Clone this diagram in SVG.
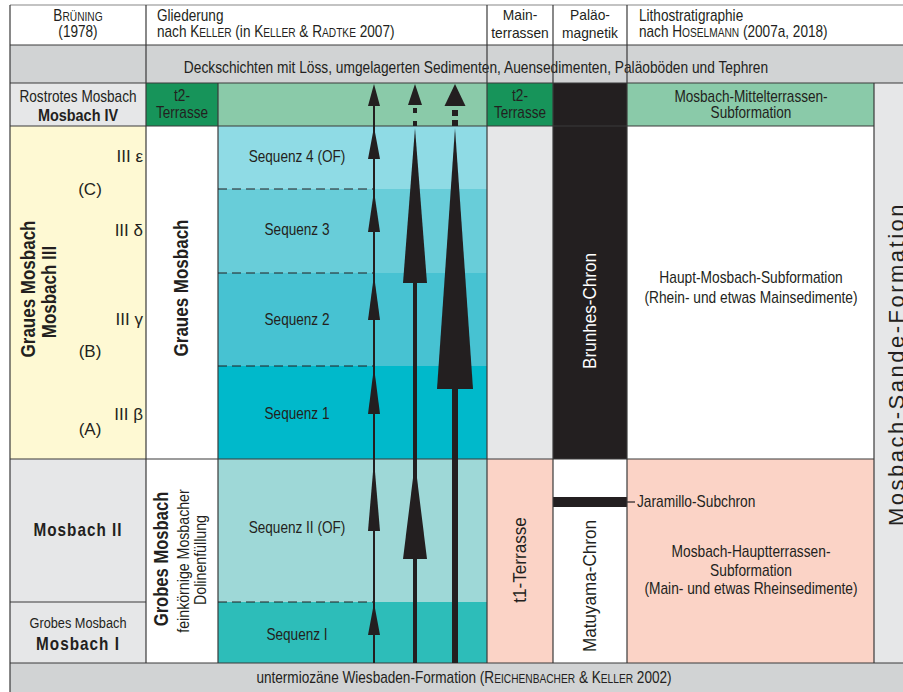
<svg xmlns="http://www.w3.org/2000/svg" width="903" height="692" viewBox="0 0 903 692">
<style>
text{font-family:"Liberation Sans",Arial,sans-serif;font-size:16px;fill:#231f20}
.c{text-anchor:middle}
.r{text-anchor:end}
.b{font-weight:bold}
.sc{font-size:12px}
.big{font-size:17px}
.rb{font-size:20px;font-weight:bold}
.rt{font-size:19px}
.w{fill:#ffffff}
.hd{font-size:15px}
.ln{stroke:#3a3a3a;stroke-width:1.2;fill:none}
.dash{stroke:#231f20;stroke-width:1.2;stroke-dasharray:9 5;fill:none}
.ar{fill:#231f20}
</style>
<rect x="0" y="0" width="903" height="692" fill="#ffffff"/>
<g id="header">
<rect x="10" y="5" width="893" height="40" fill="#ffffff"/>
<text class="c" transform="translate(78,21) scale(0.85,1)">B<tspan class="sc">RÜNING</tspan></text>
<text class="c" transform="translate(78,37) scale(0.85,1)">(1978)</text>
<text transform="translate(157,21) scale(0.85,1)">Gliederung</text>
<text transform="translate(157,37) scale(0.85,1)">nach K<tspan class="sc">ELLER</tspan> (in K<tspan class="sc">ELLER</tspan> &amp; R<tspan class="sc">ADTKE</tspan> 2007)</text>
<text class="c hd" transform="translate(520,20) scale(0.92,1)">Main-</text>
<text class="c hd" transform="translate(520,38) scale(0.92,1)">terrassen</text>
<text class="c hd" transform="translate(590,20) scale(0.92,1)">Paläo-</text>
<text class="c hd" transform="translate(590,38) scale(0.92,1)">magnetik</text>
<text transform="translate(639,21) scale(0.85,1)">Lithostratigraphie</text>
<text transform="translate(639,37) scale(0.85,1)">nach H<tspan class="sc">OSELMANN</tspan> (2007a, 2018)</text>
</g>
<g id="deckschichten">
<rect x="10" y="45" width="893" height="38" fill="#d1d3d4"/>
<text class="c" transform="translate(476,73) scale(0.86,1)">Deckschichten mit Löss, umgelagerten Sedimenten, Auensedimenten, Paläoböden und Tephren</text>
</g>
<g id="mosbach-iv">
<rect x="10" y="83" width="136" height="43" fill="#e6e7e8"/>
<text class="c" transform="translate(78,102) scale(0.85,1)">Rostrotes Mosbach</text>
<text class="c b big" transform="translate(78,121) scale(0.85,1)">Mosbach IV</text>
</g>
<g id="t2-left">
<rect x="146" y="83" width="72" height="43" fill="#17945a"/>
<text class="c" transform="translate(182,101) scale(0.85,1)">t2-</text>
<text class="c" transform="translate(182,118) scale(0.85,1)">Terrasse</text>
</g>
<g id="sequences">
<rect x="218" y="83" width="269" height="43" fill="#8acaa9"/>
<rect x="218" y="126" width="269" height="63" fill="#8fdbe5"/>
<rect x="218" y="189" width="269" height="84" fill="#68cdd9"/>
<rect x="218" y="273" width="269" height="93" fill="#47c2d2"/>
<rect x="218" y="366" width="269" height="93" fill="#00b9cb"/>
<rect x="218" y="459" width="269" height="143" fill="#9ed8d7"/>
<rect x="218" y="602" width="269" height="61" fill="#2dbdb9"/>
<text class="c" transform="translate(297,162) scale(0.85,1)">Sequenz 4 (OF)</text>
<text class="c" transform="translate(297,235) scale(0.85,1)">Sequenz 3</text>
<text class="c" transform="translate(297,325) scale(0.85,1)">Sequenz 2</text>
<text class="c" transform="translate(297,419) scale(0.85,1)">Sequenz 1</text>
<text class="c" transform="translate(297,533) scale(0.85,1)">Sequenz II (OF)</text>
<text class="c" transform="translate(297,640) scale(0.85,1)">Sequenz I</text>
</g>
<g id="t2-right">
<rect x="487" y="83" width="66" height="43" fill="#17945a"/>
<text class="c" transform="translate(520,101) scale(0.85,1)">t2-</text>
<text class="c" transform="translate(520,118) scale(0.85,1)">Terrasse</text>
</g>
<g id="brunhes">
<rect x="553" y="83" width="74" height="376" fill="#231f20"/>
<text class="c w rt" transform="translate(596,311) rotate(-90) scale(0.9,1)">Brunhes-Chron</text>
</g>
<g id="mittelterrassen">
<rect x="627" y="83" width="247" height="43" fill="#8acaa9"/>
<text class="c" transform="translate(751,102) scale(0.85,1)">Mosbach-Mittelterrassen-</text>
<text class="c" transform="translate(751,118) scale(0.85,1)">Subformation</text>
</g>
<g id="mosbach-iii">
<rect x="10" y="126" width="136" height="333" fill="#fef9d3"/>
<text class="c rb" transform="translate(35,289) rotate(-90) scale(0.85,1)">Graues Mosbach</text>
<text class="c rb" transform="translate(56,292) rotate(-90) scale(0.85,1)">Mosbach III</text>
<text class="r big" x="143" y="162">III ε</text>
<text class="c big" x="90" y="195">(C)</text>
<text class="r big" x="143" y="236">III δ</text>
<text class="r big" x="143" y="325">III γ</text>
<text class="c big" x="90" y="357">(B)</text>
<text class="r big" x="143" y="420">III β</text>
<text class="c big" x="90" y="435">(A)</text>
</g>
<g id="graues-mosbach">
<rect x="146" y="126" width="72" height="333" fill="#ffffff"/>
<text class="c rb" transform="translate(188,288) rotate(-90) scale(0.85,1)">Graues Mosbach</text>
</g>
<g id="main-upper">
<rect x="487" y="126" width="66" height="333" fill="#e6e7e8"/>
</g>
<g id="haupt-mosbach">
<rect x="627" y="126" width="247" height="333" fill="#ffffff"/>
<text class="c" transform="translate(751,283) scale(0.86,1)">Haupt-Mosbach-Subformation</text>
<text class="c" transform="translate(751,303) scale(0.86,1)">(Rhein- und etwas Mainsedimente)</text>
</g>
<g id="mosbach-ii">
<rect x="10" y="459" width="136" height="143" fill="#e6e7e8"/>
<text class="c b" transform="translate(78,536) scale(0.85,1)" style="font-size:18px;letter-spacing:1.2px">Mosbach II</text>
</g>
<g id="mosbach-i">
<rect x="10" y="602" width="136" height="61" fill="#e6e7e8"/>
<text class="c" transform="translate(78,628) scale(0.85,1)" style="font-size:15px">Grobes Mosbach</text>
<text class="c b" transform="translate(78,650) scale(0.85,1)" style="font-size:18px;letter-spacing:1.2px">Mosbach I</text>
</g>
<g id="grobes-mosbach">
<rect x="146" y="459" width="72" height="204" fill="#ffffff"/>
<text class="c rb" transform="translate(168,559) rotate(-90) scale(0.83,1)">Grobes Mosbach</text>
<text class="c" transform="translate(189,561) rotate(-90) scale(0.86,1)" style="font-size:16.5px">feinkörnige Mosbacher</text>
<text class="c" transform="translate(206,560) rotate(-90) scale(0.86,1)" style="font-size:16.5px">Dolinenfüllung</text>
</g>
<g id="t1-terrasse">
<rect x="487" y="459" width="66" height="204" fill="#fbd3c6"/>
<text class="c rt" transform="translate(526,560) rotate(-90) scale(0.9,1)">t1-Terrasse</text>
</g>
<g id="matuyama">
<rect x="553" y="459" width="74" height="204" fill="#ffffff"/>
<rect x="553" y="497" width="74" height="10" fill="#231f20"/>
<text class="c rt" transform="translate(596,586) rotate(-90) scale(0.9,1)">Matuyama-Chron</text>
</g>
<g id="hauptterrassen">
<rect x="627" y="459" width="247" height="204" fill="#fbd3c6"/>
<line x1="627" y1="502" x2="635" y2="502" stroke="#231f20" stroke-width="1.2"/>
<text transform="translate(637,507) scale(0.86,1)">Jaramillo-Subchron</text>
<text class="c" transform="translate(751,557) scale(0.86,1)">Mosbach-Hauptterrassen-</text>
<text class="c" transform="translate(751,576) scale(0.86,1)">Subformation</text>
<text class="c" transform="translate(751,594) scale(0.86,1)">(Main- und etwas Rheinsedimente)</text>
</g>
<g id="sande-formation">
<rect x="874" y="83" width="29" height="580" fill="#e6e7e8"/>
<text class="c" transform="translate(904,364) rotate(-90)" style="font-size:22px;letter-spacing:2.5px">Mosbach-Sande-Formation</text>
</g>
<g id="wiesbaden">
<rect x="10" y="663" width="893" height="29" fill="#d1d3d4"/>
<text class="c" transform="translate(464,683) scale(0.85,1)">untermiozäne Wiesbaden-Formation (R<tspan class="sc">EICHENBACHER</tspan> &amp; K<tspan class="sc">ELLER</tspan> 2002)</text>
</g>
<g id="grid">
<line class="ln" x1="10" y1="5" x2="903" y2="5" style="stroke:#888"/>
<line class="ln" x1="10" y1="45" x2="903" y2="45"/>
<line class="ln" x1="10" y1="83" x2="903" y2="83"/>
<line class="ln" x1="10" y1="126" x2="874" y2="126"/>
<line class="ln" x1="10" y1="459" x2="874" y2="459"/>
<line class="ln" x1="10" y1="602" x2="146" y2="602"/>
<line class="ln" x1="10" y1="663" x2="903" y2="663"/>
<line class="ln" x1="10" y1="5" x2="10" y2="692"/>
<line class="ln" x1="146" y1="5" x2="146" y2="663"/>
<line class="ln" x1="218" y1="83" x2="218" y2="663"/>
<line class="ln" x1="487" y1="5" x2="487" y2="663"/>
<line class="ln" x1="553" y1="5" x2="553" y2="663"/>
<line class="ln" x1="627" y1="5" x2="627" y2="663"/>
<line class="ln" x1="874" y1="83" x2="874" y2="663"/>
<line class="dash" x1="218" y1="189" x2="374" y2="189"/>
<line class="dash" x1="218" y1="273" x2="374" y2="273"/>
<line class="dash" x1="218" y1="366" x2="374" y2="366"/>
<line class="dash" x1="218" y1="602" x2="374" y2="602"/>
</g>
<g id="connectors">
<rect class="ar" x="373" y="100" width="2" height="563"/>
<polygon class="ar" points="374,84 380,106 368,106"/>
<polygon class="ar" points="374,127 380,159 368,159"/>
<polygon class="ar" points="374,191 380,232 368,232"/>
<polygon class="ar" points="374,275 380,320 368,320"/>
<polygon class="ar" points="374,367 380,414 368,414"/>
<polygon class="ar" points="374,460 380,531 368,531"/>
<polygon class="ar" points="374,603 380,635 368,635"/>
<polygon class="ar" points="415,84 422,105 408,105"/>
<rect class="ar" x="413" y="108" width="4" height="5"/>
<rect class="ar" x="413" y="121" width="4" height="5"/>
<polygon class="ar" points="415,128 427,283 403,283"/>
<rect class="ar" x="413" y="280" width="4" height="383"/>
<polygon class="ar" points="415,462 427,559 403,559"/>
<polygon class="ar" points="455,84 465.5,106 444.5,106"/>
<rect class="ar" x="452" y="110" width="6" height="6"/>
<rect class="ar" x="452" y="120" width="6" height="6"/>
<polygon class="ar" points="455,128 473,389 437,389"/>
<rect class="ar" x="452" y="385" width="6" height="278"/>
</g>
</svg>
